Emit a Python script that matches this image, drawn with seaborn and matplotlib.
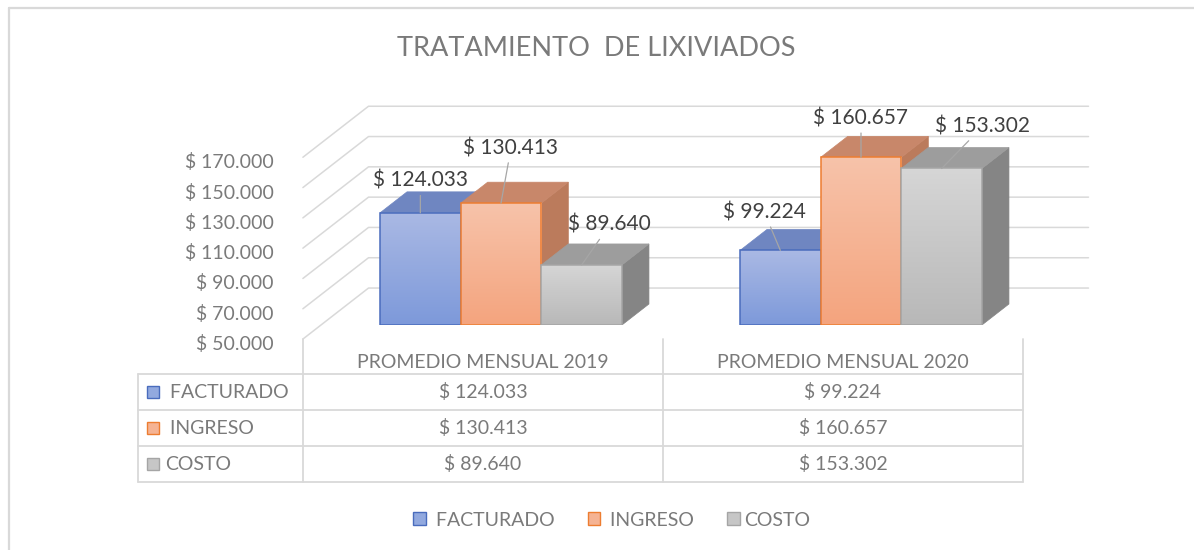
import numpy as np
import pandas as pd
import matplotlib
matplotlib.use("Agg")
import matplotlib.pyplot as plt
import seaborn as sns
from matplotlib.patches import Polygon, Rectangle, Patch
from matplotlib.lines import Line2D
from matplotlib.colors import LinearSegmentedColormap

# ---------------- data ----------------
title = "TRATAMIENTO  DE LIXIVIADOS"
categories = ["PROMEDIO MENSUAL 2019", "PROMEDIO MENSUAL 2020"]
series = [" FACTURADO", " INGRESO", "COSTO"]
facturado = [124033, 99224]
ingreso = [130413, 160657]
costo = [89640, 153302]
y_ticks = [50000, 70000, 90000, 110000, 130000, 150000, 170000]


def money(v):
    return "$ " + f"{v:,}".replace(",", ".")


# ---------------- style ----------------
front_top = ["#aab9e4", "#f7c3aa", "#d6d6d6"]
front_bot = ["#7d99da", "#f4a47e", "#b8b8b8"]
front_mid = ["#92a9df", "#f5b393", "#c6c6c6"]
edge_cols = ["#4a6cbd", "#ed7d31", "#a5a5a5"]
top_cols = ["#6f86c1", "#c8876a", "#9d9d9d"]
side_cols = ["#5d76b4", "#bb7b5c", "#858585"]
label_offsets = {(0, 0): (0, 32), (0, 1): (10, 55), (0, 2): (28, 40),
                 (1, 0): (-16, 38), (1, 1): (0, 39), (1, 2): (41, 42)}
GRID = "#d9d9d9"
TXT = "#7a7a7a"
W, H = 1194, 550
BASE = 50000
DX, DY = 0.075, 13860.0        # projection of one bar depth
D_BACK, D_FRONT = 1.76, -0.67  # wall depth positions

sns.set_theme(style="white")
plt.rcParams["font.family"] = ["Lato", "DejaVu Sans"]

fig = plt.figure(figsize=(W / 100, H / 100), dpi=100)
fig.patch.set_facecolor("white")


def fx(px):
    return px / W


def fy(py):
    return 1 - py / H


AX_L, AX_R, AX_T, AX_B = 138, 1100, 90, 325
ax = fig.add_axes([fx(AX_L), fy(AX_B), (AX_R - AX_L) / W, (AX_B - AX_T) / H])

rows = []
for s, vals in zip(series, [facturado, ingreso, costo]):
    for c, v in zip(categories, vals):
        rows.append({"periodo": c, "serie": s, "valor": v})
df = pd.DataFrame(rows)

bar_group_w = 0.672
sns.barplot(data=df, x="periodo", y="valor", hue="serie", order=categories,
            hue_order=series, palette=front_mid, width=bar_group_w, gap=0,
            saturation=1, legend=False, ax=ax, errorbar=None, linewidth=0)

XLIM = (-1.0083, 1.6639)
YLIM = (BASE, 205115)
ax.set_xlim(*XLIM)
ax.set_ylim(*YLIM)
ax.set_axis_off()


def proj(x, v, d):
    return (x + d * DX, v + d * DY)


# back wall + left wall gridlines
for v in y_ticks:
    pts = [proj(-0.5, v, D_FRONT), proj(-0.5, v, D_BACK), proj(1.5, v, D_BACK)]
    xs, ys = zip(*pts)
    ax.plot(xs, ys, color=GRID, lw=1.1, zorder=1, clip_on=False)
    ax.annotate(money(v), xy=proj(-0.5, v, D_FRONT), xytext=(-29, -5),
                textcoords="offset pixels", ha="right", va="center",
                fontsize=14, color=TXT, annotation_clip=False)

bw = bar_group_w / 3
grad = np.linspace(0, 1, 256).reshape(-1, 1)
for p in list(ax.patches):
    cx = p.get_x() + p.get_width() / 2
    cat = int(round(cx))
    j = int(round((cx - cat) / bw)) + 1
    v = p.get_height()
    x0, x1 = p.get_x(), p.get_x() + p.get_width()
    z = 3 + j * 0.1
    p.set_zorder(z + 0.05)
    # top & side faces
    top = Polygon([proj(x0, v, 0), proj(x1, v, 0), proj(x1, v, 1), proj(x0, v, 1)],
                  closed=True, facecolor=top_cols[j], edgecolor=top_cols[j],
                  lw=0.5, zorder=z)
    side = Polygon([proj(x1, BASE, 0), proj(x1, BASE, 1), proj(x1, v, 1), proj(x1, v, 0)],
                   closed=True, facecolor=side_cols[j], edgecolor=side_cols[j],
                   lw=0.5, zorder=z)
    ax.add_patch(side)
    ax.add_patch(top)
    cmap = LinearSegmentedColormap.from_list("g%d" % j, [front_bot[j], front_top[j]])
    im = ax.imshow(grad, extent=[x0, x1, BASE, v], origin="lower", cmap=cmap,
                   aspect="auto", zorder=z + 0.06, interpolation="bilinear")
    im.set_clip_path(p)
    ax.add_patch(Rectangle((x0, BASE), x1 - x0, v - BASE, fill=False,
                           edgecolor=edge_cols[j], lw=1.1, zorder=z + 0.07))
    ox, oy = label_offsets[(cat, j)]
    ax.annotate(money(int(v)), xy=(cx, v), xytext=(ox, oy),
                textcoords="offset pixels", ha="center", va="center",
                fontsize=15, color="#404040", zorder=10,
                arrowprops=dict(arrowstyle="-", color="#a6a6a6", lw=0.9,
                                shrinkA=1, shrinkB=0),
                annotation_clip=False)

ax.set_xlim(*XLIM)
ax.set_ylim(*YLIM)


def to_px(pt):
    X, Y = ax.transData.transform(pt)
    return X, H - Y


def fline(xs, ys, **kw):
    fig.add_artist(Line2D([fx(x) for x in xs], [fy(y) for y in ys],
                          transform=fig.transFigure, **kw))


# ---------------- data table ----------------
col_px = [to_px(proj(x, BASE, D_FRONT)) for x in (-0.5, 0.5, 1.5)]
t_top = col_px[0][1]
T_LEFT, T_HEAD, T_ROWS = 138, 362, [374, 410, 446, 482]
for cx_, _ in col_px:
    fline([cx_, cx_], [t_top, T_ROWS[-1]], color=GRID, lw=1.3)
fline([T_LEFT, T_LEFT], [T_ROWS[0], T_ROWS[-1]], color=GRID, lw=1.3)
for ry in T_ROWS:
    fline([T_LEFT, col_px[2][0]], [ry, ry], color=GRID, lw=1.3)

for i, c in enumerate(categories):
    xm = (col_px[i][0] + col_px[i + 1][0]) / 2
    fig.text(fx(xm), fy(T_HEAD), c, ha="center", va="center", fontsize=14, color=TXT)
    for j, vals in enumerate([facturado, ingreso, costo]):
        ym = (T_ROWS[j] + T_ROWS[j + 1]) / 2
        fig.text(fx(xm), fy(ym), money(vals[i]), ha="center", va="center",
                 fontsize=14, color=TXT)

for j, s in enumerate(series):
    ym = (T_ROWS[j] + T_ROWS[j + 1]) / 2
    fig.add_artist(Rectangle((fx(147), fy(ym + 6)), 12 / W, 12 / H,
                             transform=fig.transFigure, facecolor=front_mid[j],
                             edgecolor=edge_cols[j], lw=1.0))
    fig.text(fx(165), fy(ym), s, ha="left", va="center", fontsize=14, color=TXT)

# ---------------- legend ----------------
handles = [Patch(facecolor=front_mid[j], edgecolor=edge_cols[j], lw=1.0) for j in range(3)]
leg = fig.legend(handles, series, loc="center", bbox_to_anchor=(fx(612), fy(520)),
                 ncol=3, frameon=False, fontsize=14, handlelength=0.65,
                 handleheight=0.65, handletextpad=0.25, columnspacing=1.7,
                 labelcolor=TXT)

# ---------------- title & frame ----------------
fig.text(fx(596), fy(49), title, ha="center", va="center", fontsize=19.5, color=TXT)
fline([9, 9], [8, 560], color=GRID, lw=1.6)
fline([9, 1200], [8, 8], color=GRID, lw=1.6)

fig.savefig("out.png", dpi=100, facecolor="white")
